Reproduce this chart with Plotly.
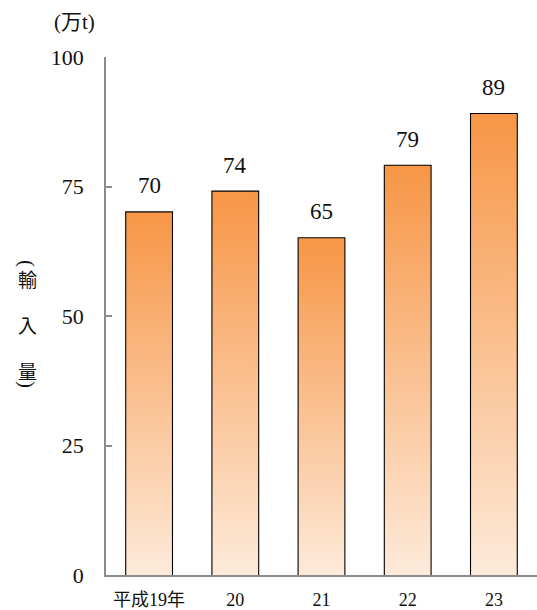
import plotly.graph_objects as go

# Import volume by fiscal year (10,000 t)
categories = ["平成19年", "20", "21", "22", "23"]
values = [70, 74, 65, 79, 89]
y_ticks = [0, 25, 50, 75, 100]

TOP = "rgb(247,150,70)"
BOTTOM = "rgb(253,234,218)"
BAR_W = 0.53
SERIF = "'Liberation Serif', 'Noto Sans CJK JP', serif"
CJK = "'Noto Sans CJK JP', sans-serif"

fig = go.Figure()

# Gradient fill for every bar: a closed polygon spanning the bar, shaded bottom→top
for i, v in enumerate(values):
    x0, x1 = i - BAR_W / 2, i + BAR_W / 2
    fig.add_trace(go.Scatter(
        x=[x0, x1, x1, x0, x0],
        y=[0, 0, v, v, 0],
        mode="lines",
        line=dict(width=0),
        fill="toself",
        fillgradient=dict(type="vertical", colorscale=[[0, BOTTOM], [1, TOP]]),
        hoverinfo="skip",
        showlegend=False,
    ))

# Bar outlines
fig.add_trace(go.Bar(
    x=list(range(len(values))),
    y=values,
    width=BAR_W,
    marker=dict(color="rgba(0,0,0,0)", line=dict(color="black", width=2.2)),
    showlegend=False,
    hoverinfo="skip",
))

# Value labels above the bars
for i, v in enumerate(values):
    fig.add_annotation(
        x=i, y=v, text=str(v), showarrow=False,
        yanchor="bottom", yshift=12,
        font=dict(family=SERIF, size=23, color="#111"),
    )

# Unit label
fig.add_annotation(
    xref="paper", yref="paper", x=(52 - 106) / 431, y=(575 - 22) / 518,
    xanchor="left", yanchor="middle",
    text="(万t)", showarrow=False,
    font=dict(family=SERIF, size=21, color="#111"),
)

# Vertical axis title: 輸入量 set vertically, bracketed by turned parentheses
AX_X = (27 - 106) / 431
for ch, py in [("輸", 278), ("入", 324), ("量", 370)]:
    fig.add_annotation(
        xref="paper", yref="paper", x=AX_X, y=(575 - py) / 518,
        xanchor="center", yanchor="middle",
        text=ch, showarrow=False,
        font=dict(family=CJK, size=19, color="#111"),
    )
for ch, py in [("(", 263), (")", 384)]:
    fig.add_annotation(
        xref="paper", yref="paper", x=AX_X, y=(575 - py) / 518,
        xanchor="center", yanchor="middle",
        text=ch, textangle=90, showarrow=False,
        font=dict(family="'Liberation Serif', serif", size=21, color="#111"),
    )

fig.update_layout(
    width=537, height=610,
    margin=dict(l=106, r=0, t=57, b=35),
    paper_bgcolor="white", plot_bgcolor="white",
    bargap=0.47,
    xaxis=dict(
        range=[-0.5, len(values) - 0.5],
        tickmode="array",
        tickvals=list(range(len(values))),
        ticktext=categories,
        showline=True, linecolor="#8c8c8c", linewidth=1.5,
        ticks="", showgrid=False, zeroline=False,
        tickfont=dict(family=SERIF, size=18, color="#111"),
        ticklabelstandoff=8,
    ),
    yaxis=dict(
        range=[0, 100],
        tickvals=y_ticks,
        showline=True, linecolor="#8c8c8c", linewidth=1.5,
        ticks="inside", ticklen=6, tickcolor="#8c8c8c", tickwidth=1.5,
        showgrid=False, zeroline=False,
        tickfont=dict(family=SERIF, size=22, color="#111"),
        ticklabelstandoff=16,
    ),
)

fig.write_html("out.html")
